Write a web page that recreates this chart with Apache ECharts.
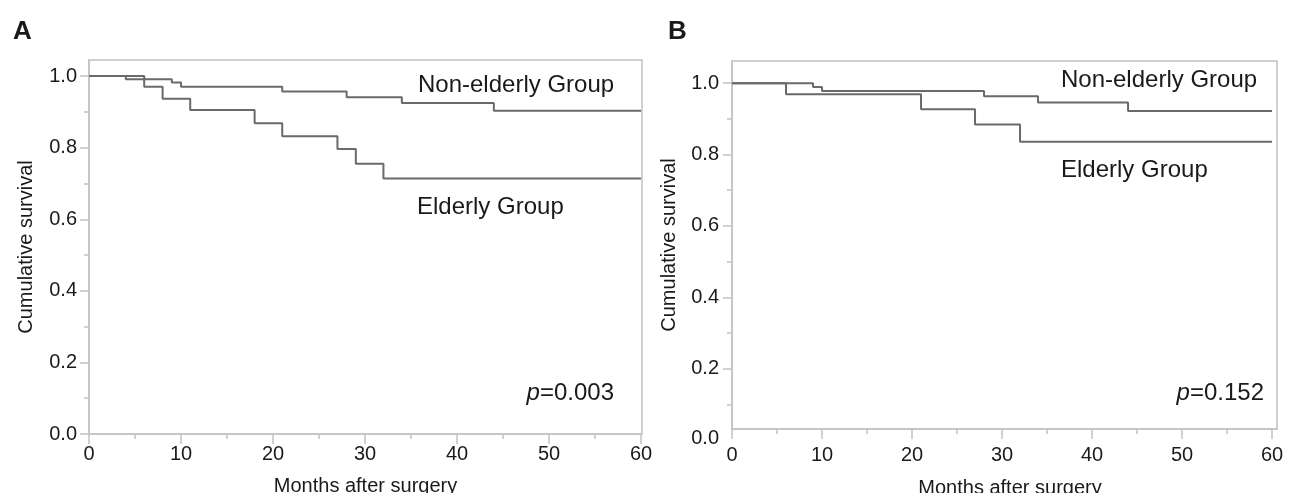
<!DOCTYPE html>
<html><head><meta charset="utf-8">
<script src="https://cdn.jsdelivr.net/npm/echarts@6/dist/echarts.min.js"></script>
<style>html,body{margin:0;padding:0;background:#fff}#c{width:1294px;height:493px}</style>
</head><body><div id="c"></div>
<script>
// ---- data ----
const monthTicks = [0, 10, 20, 30, 40, 50, 60];
const monthMinorTicks = [5, 15, 25, 35, 45, 55];
const survTicks = [0, 0.2, 0.4, 0.6, 0.8, 1.0];
const survMinorTicks = [0.1, 0.3, 0.5, 0.7, 0.9];

const aNonElderlyMonths = [0, 4, 9, 10, 21, 28, 34, 44, 60];
const aNonElderlySurv   = [1, 0.991, 0.982, 0.970, 0.957, 0.941, 0.925, 0.903, 0.903];
const aElderlyMonths    = [0, 6, 8, 11, 18, 21, 27, 29, 32, 60];
const aElderlySurv      = [1, 0.970, 0.937, 0.905, 0.868, 0.832, 0.796, 0.755, 0.714, 0.714];

const bNonElderlyMonths = [0, 9, 10, 28, 34, 44, 60];
const bNonElderlySurv   = [1, 0.989, 0.978, 0.963, 0.946, 0.922, 0.922];
const bElderlyMonths    = [0, 6, 21, 27, 32, 60];
const bElderlySurv      = [1, 0.969, 0.927, 0.884, 0.836, 0.836];

const labelNon = 'Non-elderly Group';
const labelEld = 'Elderly Group';
const pA = '0.003', pB = '0.152';
const xName = 'Months after surgery', yName = 'Cumulative survival';

// ---- styles ----
const FONT = '"Liberation Sans", Arial, sans-serif';
const TXT = '#1a1a1a';
const AX = '#c2c2c2';
const LINE = '#6a6a6a';

const chart = echarts.init(document.getElementById('c'), null, {renderer: 'canvas'});
const pairs = (xs, ys) => xs.map((x, i) => [x, ys[i]]);

function xMajor(grid, max, labelMargin, nameGap, namePad) {
  return {
    type: 'value', gridIndex: grid, min: 0, max: max, position: 'bottom',
    axisLine: {show: true, lineStyle: {color: AX, width: 1.5}},
    axisTick: {show: true, length: 10, customValues: monthTicks, lineStyle: {color: AX, width: 1.5}},
    axisLabel: {show: true, customValues: monthTicks, margin: labelMargin, fontSize: 20, color: TXT, fontFamily: FONT},
    splitLine: {show: false},
    name: xName, nameLocation: 'middle', nameGap: nameGap,
    nameTextStyle: {fontSize: 20, color: TXT, fontFamily: FONT, padding: namePad}
  };
}
function xMinor(grid, max) {
  return {
    type: 'value', gridIndex: grid, min: 0, max: max, position: 'bottom',
    axisLine: {show: false},
    axisTick: {show: true, length: 5, customValues: monthMinorTicks, lineStyle: {color: AX, width: 1.5}},
    axisLabel: {show: false}, splitLine: {show: false}
  };
}
function yMajor(grid, min, max, tickVals, labelMargin, nameGap) {
  return {
    type: 'value', gridIndex: grid, min: min, max: max, position: 'left',
    axisLine: {show: true, lineStyle: {color: AX, width: 1.5}},
    axisTick: {show: true, length: 9, customValues: tickVals, lineStyle: {color: AX, width: 1.5}},
    axisLabel: {show: true, customValues: tickVals, margin: labelMargin, fontSize: 20, color: TXT, fontFamily: FONT,
                formatter: v => v.toFixed(1)},
    splitLine: {show: false},
    name: yName, nameLocation: 'middle', nameGap: nameGap,
    nameTextStyle: {fontSize: 20, color: TXT, fontFamily: FONT}
  };
}
function yMinor(grid, min, max) {
  return {
    type: 'value', gridIndex: grid, min: min, max: max, position: 'left',
    axisLine: {show: false},
    axisTick: {show: true, length: 5, customValues: survMinorTicks, lineStyle: {color: AX, width: 1.5}},
    axisLabel: {show: false}, splitLine: {show: false}
  };
}
function km(xIdx, yIdx, xs, ys) {
  return {
    type: 'line', step: 'end', xAxisIndex: xIdx, yAxisIndex: yIdx,
    data: pairs(xs, ys), showSymbol: false, symbol: 'none',
    lineStyle: {color: LINE, width: 2}, emphasis: {disabled: true}, silent: true
  };
}
function txt(x, y, s, opts) {
  return {type: 'text', x: x, y: y, silent: true,
          style: Object.assign({text: s, fill: TXT, font: '24px ' + FONT, textAlign: 'left', textVerticalAlign: 'middle'}, opts || {})};
}
function ptxt(x, y, val) {
  return {type: 'text', x: x, y: y, silent: true,
          style: {text: '{i|p}=' + val, fill: TXT, fontSize: 24, fontFamily: FONT, textAlign: 'right', textVerticalAlign: 'middle',
                  rich: {i: {fontStyle: 'italic', fontSize: 24, fontFamily: FONT, fill: TXT}}}};
}

const B_YMIN = 0.031, B_YMAX = 1.062;

chart.setOption({
  animation: false,
  backgroundColor: '#fff',
  grid: [
    {left: 89, top: 60, width: 553, height: 374, show: true, borderColor: AX, borderWidth: 1.5, backgroundColor: 'transparent', outerBoundsMode: 'none', containLabel: false},
    {left: 732, top: 61, width: 545, height: 368, show: true, borderColor: AX, borderWidth: 1.5, backgroundColor: 'transparent', outerBoundsMode: 'none', containLabel: false}
  ],
  xAxis: [
    xMajor(0, 60.1, 10, 42, [0, 0, 0, 0]),
    xMinor(0, 60.1),
    xMajor(1, 60.55, 16, 49, [0, 0, 0, 11]),
    xMinor(1, 60.55)
  ],
  yAxis: [
    yMajor(0, 0, 1.045, survTicks, 12, 53),
    yMinor(0, 0, 1.045),
    yMajor(1, B_YMIN, B_YMAX, survTicks.filter(v => v > 0), 13, 53),
    yMinor(1, B_YMIN, B_YMAX)
  ],
  series: [
    km(0, 0, aNonElderlyMonths, aNonElderlySurv),
    km(0, 0, aElderlyMonths, aElderlySurv),
    km(2, 2, bNonElderlyMonths, bNonElderlySurv),
    km(2, 2, bElderlyMonths, bElderlySurv)
  ],
  graphic: [
    txt(13, 32, 'A', {font: 'bold 26px ' + FONT}),
    txt(668, 32, 'B', {font: 'bold 26px ' + FONT}),
    txt(418, 85, labelNon),
    txt(417, 207, labelEld),
    txt(1061, 80, labelNon),
    txt(1061, 170, labelEld),
    ptxt(614, 393, pA),
    ptxt(1264, 393, pB),
    {type: 'text', x: 719, y: 438, silent: true,
     style: {text: '0.0', fill: TXT, font: '20px ' + FONT, textAlign: 'right', textVerticalAlign: 'middle'}}
  ]
});
</script></body></html>
